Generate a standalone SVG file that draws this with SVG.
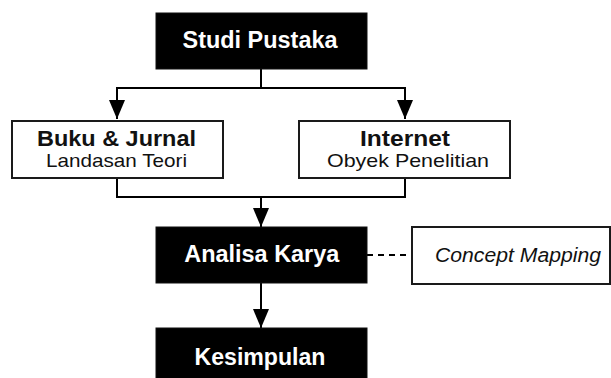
<svg xmlns="http://www.w3.org/2000/svg" width="611" height="378" viewBox="0 0 611 378">
<style>
.dark{fill:#000;stroke:#111;stroke-width:1}
.light{fill:#fff;stroke:#1a1a1a;stroke-width:2}
.t{font-family:"Liberation Sans",Arial,sans-serif;text-anchor:middle}
.w{fill:#fff;font-weight:bold;font-size:23px}
.b{fill:#111;font-weight:bold;font-size:22px}
.r{fill:#111;font-size:19px}
.i{fill:#111;font-size:20px;font-style:italic}
.c{fill:none;stroke:#000;stroke-width:2}
</style>
<defs>
<marker id="ah" markerWidth="19" markerHeight="16" refX="19" refY="8" orient="auto" markerUnits="userSpaceOnUse">
<path d="M0,0 L19,8 L0,16 Z" fill="#000"/>
</marker>
</defs>
<g id="connectors">
<path class="c" d="M261,69 V88 M117,88 H405" />
<path class="c" d="M117,87 V119" marker-end="url(#ah)"/>
<path class="c" d="M405,87 V119" marker-end="url(#ah)"/>
<path class="c" d="M117,178 V197 H405 V178 M261,197 V227" />
<path class="c" d="M261,196 V227" marker-end="url(#ah)"/>
<path class="c" d="M261,283 V328" marker-end="url(#ah)"/>
<path class="c" d="M367,255 H412" stroke-dasharray="6,5"/>
</g>
<g id="studi-pustaka">
<rect class="dark" x="156" y="13" width="211" height="56"/>
<text class="t w" x="260" y="48" textLength="155" lengthAdjust="spacingAndGlyphs">Studi Pustaka</text>
</g>
<g id="buku-jurnal">
<rect class="light" x="12" y="121" width="211" height="57"/>
<text class="t b" x="116.5" y="145.5" textLength="159" lengthAdjust="spacingAndGlyphs">Buku &amp; Jurnal</text>
<text class="t r" x="116.5" y="166.5" textLength="141" lengthAdjust="spacingAndGlyphs">Landasan Teori</text>
</g>
<g id="internet">
<rect class="light" x="299" y="121" width="211" height="57"/>
<text class="t b" x="405" y="145.5" textLength="90" lengthAdjust="spacingAndGlyphs">Internet</text>
<text class="t r" x="408" y="166.5" textLength="162" lengthAdjust="spacingAndGlyphs">Obyek Penelitian</text>
</g>
<g id="analisa-karya">
<rect class="dark" x="156" y="227" width="211" height="56"/>
<text class="t w" x="261.8" y="262.3" textLength="155" lengthAdjust="spacingAndGlyphs">Analisa Karya</text>
</g>
<g id="concept-mapping">
<rect class="light" x="412" y="227" width="198" height="57"/>
<text class="t i" x="518" y="262.3" textLength="166" lengthAdjust="spacingAndGlyphs">Concept Mapping</text>
</g>
<g id="kesimpulan">
<rect class="dark" x="156" y="328" width="211" height="56"/>
<text class="t w" x="260" y="365" textLength="131" lengthAdjust="spacingAndGlyphs">Kesimpulan</text>
</g>
</svg>
